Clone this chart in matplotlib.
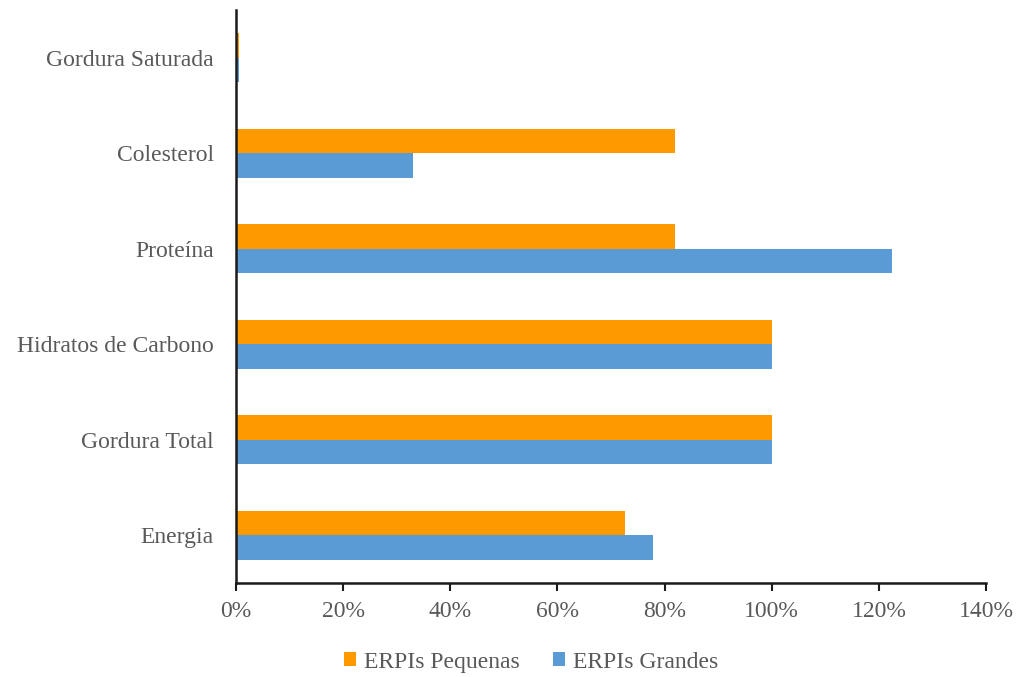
import matplotlib
matplotlib.use("Agg")
import matplotlib.pyplot as plt
import numpy as np
from matplotlib.ticker import FuncFormatter

categories = ["Energia", "Gordura Total", "Hidratos de Carbono",
              "Proteína", "Colesterol", "Gordura Saturada"]
pequenas = [72.6, 100.0, 100.0, 82.0, 82.0, 0.5]
grandes = [77.8, 100.0, 100.0, 122.5, 33.0, 0.5]
xticks = [0, 20, 40, 60, 80, 100, 120, 140]

plt.rcParams["font.family"] = ["Liberation Serif", "DejaVu Serif"]
text_color = "#595959"
fs = 17

fig = plt.figure(figsize=(10.2, 6.77), dpi=100)
ax = fig.add_axes([0.2314, 0.1389, 0.7353, 0.8461])

y = np.arange(len(categories))
h = 0.257
ax.barh(y + h / 2, pequenas, height=h, color="#FF9900", label="ERPIs Pequenas")
ax.barh(y - h / 2, grandes, height=h, color="#5B9BD5", label="ERPIs Grandes")

ax.set_xlim(0, 140)
ax.set_ylim(-0.5, len(categories) - 0.5)
ax.set_xticks(xticks)
ax.xaxis.set_major_formatter(FuncFormatter(lambda v, p: f"{v:.0f}%"))
ax.set_yticks(y)
ax.set_yticklabels(categories)

for s in ("top", "right"):
    ax.spines[s].set_visible(False)
for s in ("left", "bottom"):
    ax.spines[s].set_linewidth(1.8)
    ax.spines[s].set_color("#1a1a1a")

ax.tick_params(axis="x", direction="out", length=6, width=1.5, color="#1a1a1a",
               labelsize=fs, labelcolor=text_color, pad=7)
ax.tick_params(axis="y", length=0, labelsize=fs, labelcolor=text_color, pad=16)

leg = fig.legend(loc="center", bbox_to_anchor=(0.521, 0.022), ncol=2, frameon=False,
                 fontsize=fs, handlelength=0.5, handleheight=0.5,
                 handletextpad=0.35, columnspacing=1.4)
for t in leg.get_texts():
    t.set_color(text_color)

fig.savefig("out.png", dpi=100)
